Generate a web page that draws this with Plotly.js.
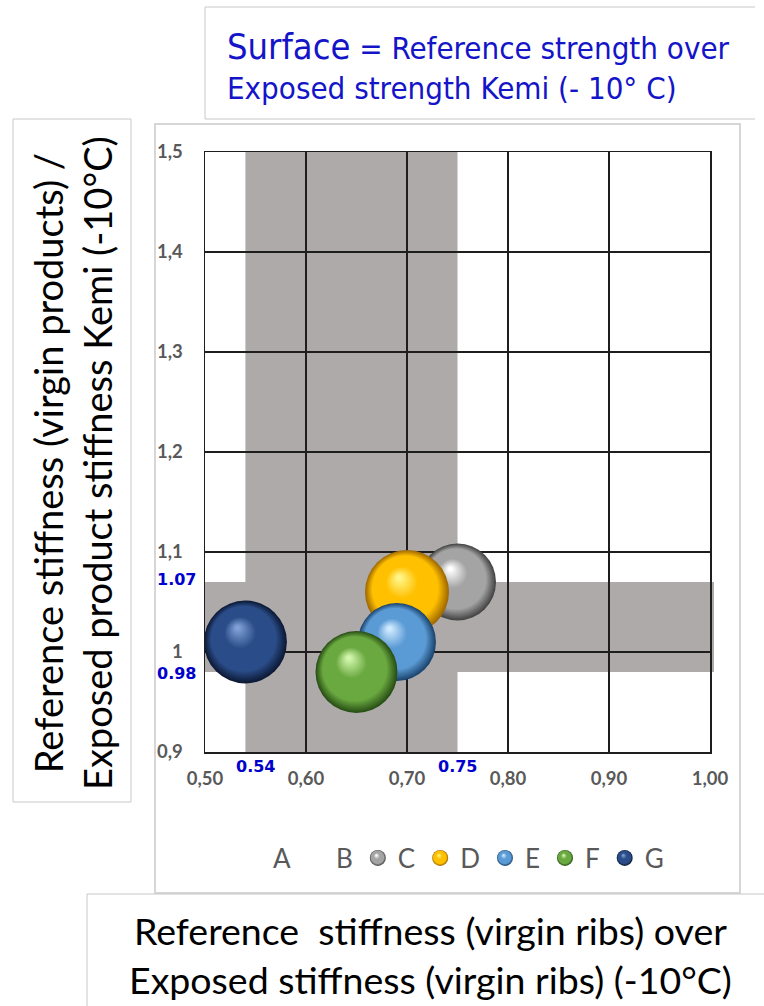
<!DOCTYPE html>
<html>
<head>
<meta charset="utf-8">
<script src="https://cdn.plot.ly/plotly-3.0.1.min.js"></script>
<style>
  html, body { margin: 0; padding: 0; background: #ffffff; }
  #chart { width: 764px; height: 1006px; }
</style>
</head>
<body>
<div id="chart"></div>
<script>
// Stiffness ratios of the exposed products (bubble position) and strength ratio in % (bubble area)
const sphereNames = ['C', 'D', 'E', 'F', 'G'];
const ribStiffnessRatio = [0.75, 0.70, 0.69, 0.65, 0.54];
const productStiffnessRatio = [1.07, 1.06, 1.01, 0.98, 1.01];
const strengthRatioPct = [105, 125, 108, 119, 122];
const emptySeries = ['A', 'B'];

// Reference windows on both ratios
const windowX = [0.54, 0.75];
const windowY = [0.98, 1.07];

// Axis ticks (decimal comma)
const xTickVals = [0.5, 0.6, 0.7, 0.8, 0.9, 1.0];
const xTickText = ['0,50', '0,60', '0,70', '0,80', '0,90', '1,00'];
const yTickVals = [0.9, 1.0, 1.1, 1.2, 1.3, 1.4, 1.5];
const yTickText = ['0,9', '1', '1,1', '1,2', '1,3', '1,4', '1,5'];

// Sphere shading: highlight, body, rim
const spherePalette = {
  C: ['#ffffff', '#a4a4a4', '#3f3f3f'],
  D: ['#fff68a', '#ffc000', '#9a6400'],
  E: ['#cfeaff', '#5b9bd5', '#173f69'],
  F: ['#d2f7ac', '#6aa840', '#244a12'],
  G: ['#7f9fd6', '#2a4c88', '#0a1630']
};

// Page geometry of the plot area, used to place boxes and texts in paper units
const PL = 205, PR = 710, PT = 152, PB = 752;
const px = v => (v - PL) / (PR - PL);
const py = v => (PB - v) / (PB - PT);

const titleFont = 'Lato, "Noto Sans", sans-serif';
const boxFont = '"DejaVu Sans Condensed", "Noto Sans", sans-serif';
const grid = '#1e1e1e';
const boxGrey = '#c8c8c8';

const maxDiameter = 84;
const sizeref = 2 * Math.max(...strengthRatioPct) / (maxDiameter * maxDiameter);

const traces = [];
emptySeries.forEach(name => {
  traces.push({
    type: 'scatter', mode: 'markers', name: name,
    x: [null], y: [null],
    marker: { color: 'rgba(0,0,0,0)', size: 16 },
    hoverinfo: 'skip'
  });
});
sphereNames.forEach((name, i) => {
  const pal = spherePalette[name];
  traces.push({
    type: 'scatter', mode: 'markers', name: name, uid: 'sphere' + name,
    x: [ribStiffnessRatio[i]], y: [productStiffnessRatio[i]],
    marker: {
      size: [strengthRatioPct[i]], sizemode: 'area', sizeref: sizeref,
      opacity: 1,
      color: pal[2],
      gradient: { type: 'radial', color: pal[0] },
      line: { width: 0 }
    },
    cliponaxis: false,
    hovertemplate: name + '<br>%{x:.2f} / %{y:.2f}<extra></extra>'
  });
});

const bandStyle = { fillcolor: '#aeaaaa', line: { width: 0 }, layer: 'below' };
const shapes = [
  Object.assign({ type: 'rect', xref: 'x', yref: 'paper', x0: windowX[0], x1: windowX[1], y0: 0, y1: 1 }, bandStyle),
  Object.assign({ type: 'rect', xref: 'paper', yref: 'y', x0: 0, x1: px(714), y0: windowY[0], y1: windowY[1] }, bandStyle),
  // text boxes and chart frame
  { type: 'line', xref: 'paper', yref: 'paper', x0: px(205), x1: px(755), y0: py(7), y1: py(7), line: { color: boxGrey, width: 1 } },
  { type: 'line', xref: 'paper', yref: 'paper', x0: px(205), x1: px(755), y0: py(119), y1: py(119), line: { color: boxGrey, width: 1 } },
  { type: 'line', xref: 'paper', yref: 'paper', x0: px(205), x1: px(205), y0: py(7), y1: py(119), line: { color: boxGrey, width: 1 } },
  { type: 'rect', xref: 'paper', yref: 'paper', x0: px(13), x1: px(131), y0: py(119), y1: py(802), line: { color: boxGrey, width: 1 } },
  { type: 'rect', xref: 'paper', yref: 'paper', x0: px(155), x1: px(740), y0: py(124), y1: py(893), line: { color: '#d6d6d6', width: 2 } },
  { type: 'line', xref: 'paper', yref: 'paper', x0: px(87), x1: px(764), y0: py(894), y1: py(894), line: { color: boxGrey, width: 1 } },
  { type: 'line', xref: 'paper', yref: 'paper', x0: px(87), x1: px(87), y0: py(894), y1: py(1006), line: { color: boxGrey, width: 1 } }
];

const valueFont = { family: '"DejaVu Sans", sans-serif', size: 16, color: '#0000cc', weight: 700 };
const annotations = [
  { xref: 'paper', yref: 'paper', x: px(225), y: py(47), xanchor: 'left', yanchor: 'middle', showarrow: false,
    text: '<span style="font-size:36px">Surface</span> = Reference strength over',
    font: { family: boxFont, size: 31, color: '#1414c8' } },
  { xref: 'paper', yref: 'paper', x: px(225), y: py(88), xanchor: 'left', yanchor: 'middle', showarrow: false,
    text: 'Exposed strength Kemi (- 10° C)',
    font: { family: boxFont, size: 31, color: '#1414c8' } },
  { xref: 'paper', yref: 'paper', x: px(430), y: py(955), xanchor: 'center', yanchor: 'middle', showarrow: false,
    text: 'Reference\u00a0 stiffness (virgin ribs) over<br>Exposed stiffness (virgin ribs) (-10°C)',
    font: { family: titleFont, size: 37.5, color: '#000000' } },
  { xref: 'paper', yref: 'paper', x: px(72.5), y: py(463.5), xanchor: 'center', yanchor: 'middle', showarrow: false,
    textangle: -90,
    text: 'Reference stiffness (virgin products) /<br>Exposed product stiffness Kemi (-10°C)',
    font: { family: titleFont, size: 38, color: '#000000' } },
  { xref: 'x', yref: 'paper', x: windowX[0], y: py(766), xshift: 10, xanchor: 'center', yanchor: 'middle',
    showarrow: false, text: windowX[0].toFixed(2), font: valueFont },
  { xref: 'x', yref: 'paper', x: windowX[1], y: py(766), xanchor: 'center', yanchor: 'middle',
    showarrow: false, text: windowX[1].toFixed(2), font: valueFont },
  { xref: 'paper', yref: 'y', x: px(198), xanchor: 'right', yanchor: 'middle', y: windowY[1], yshift: 3,
    showarrow: false, text: windowY[1].toFixed(2), font: valueFont },
  { xref: 'paper', yref: 'y', x: px(198), xanchor: 'right', yanchor: 'middle', y: windowY[0], yshift: -1,
    showarrow: false, text: windowY[0].toFixed(2), font: valueFont }
];

const tickFont = { family: titleFont, size: 18.5, color: '#595959', weight: 700 };
const axisCommon = {
  showgrid: true, gridcolor: grid, gridwidth: 1.5,
  showline: true, mirror: true, linecolor: grid, linewidth: 1.5,
  zeroline: false, ticks: '', tickmode: 'array', tickfont: tickFont, fixedrange: true
};

const layout = {
  width: 764, height: 1006,
  margin: { l: PL, r: 764 - PR, t: PT, b: 1006 - PB, pad: 0 },
  paper_bgcolor: '#ffffff', plot_bgcolor: '#ffffff',
  showlegend: true,
  legend: {
    orientation: 'h', x: px(233), y: py(858), xanchor: 'left', yanchor: 'middle',
    font: { family: titleFont, size: 26, color: '#595959' },
    bgcolor: 'rgba(0,0,0,0)', itemclick: false, itemdoubleclick: false
  },
  xaxis: Object.assign({}, axisCommon, { range: [0.5, 1.0], tickvals: xTickVals, ticktext: xTickText, ticklabelstandoff: 9 }),
  yaxis: Object.assign({}, axisCommon, { range: [0.9, 1.5], tickvals: yTickVals, ticktext: yTickText, ticklabelstandoff: 17 }),
  shapes: shapes,
  annotations: annotations
};

// Give each sphere an off-centre highlight and a stepped shading towards the rim
function shadeSpheres() {
  document.querySelectorAll('radialGradient').forEach(g => {
    const name = sphereNames.find(n => g.id.indexOf('sphere' + n) !== -1);
    if (!name) return;
    const pal = spherePalette[name];
    g.setAttribute('cx', '50%'); g.setAttribute('cy', '50%'); g.setAttribute('r', '50%');
    g.setAttribute('fx', '40%'); g.setAttribute('fy', '32%');
    while (g.firstChild) g.removeChild(g.firstChild);
    [[0, pal[0]], [0.04, pal[0]], [0.38, pal[1]], [0.78, pal[1]], [1, pal[2]]].forEach(s => {
      const stop = document.createElementNS('http://www.w3.org/2000/svg', 'stop');
      stop.setAttribute('offset', (s[0] * 100) + '%');
      stop.setAttribute('stop-color', s[1]);
      g.appendChild(stop);
    });
  });
}

Plotly.newPlot('chart', traces, layout, { displayModeBar: false, staticPlot: true }).then(shadeSpheres);
</script>
</body>
</html>
